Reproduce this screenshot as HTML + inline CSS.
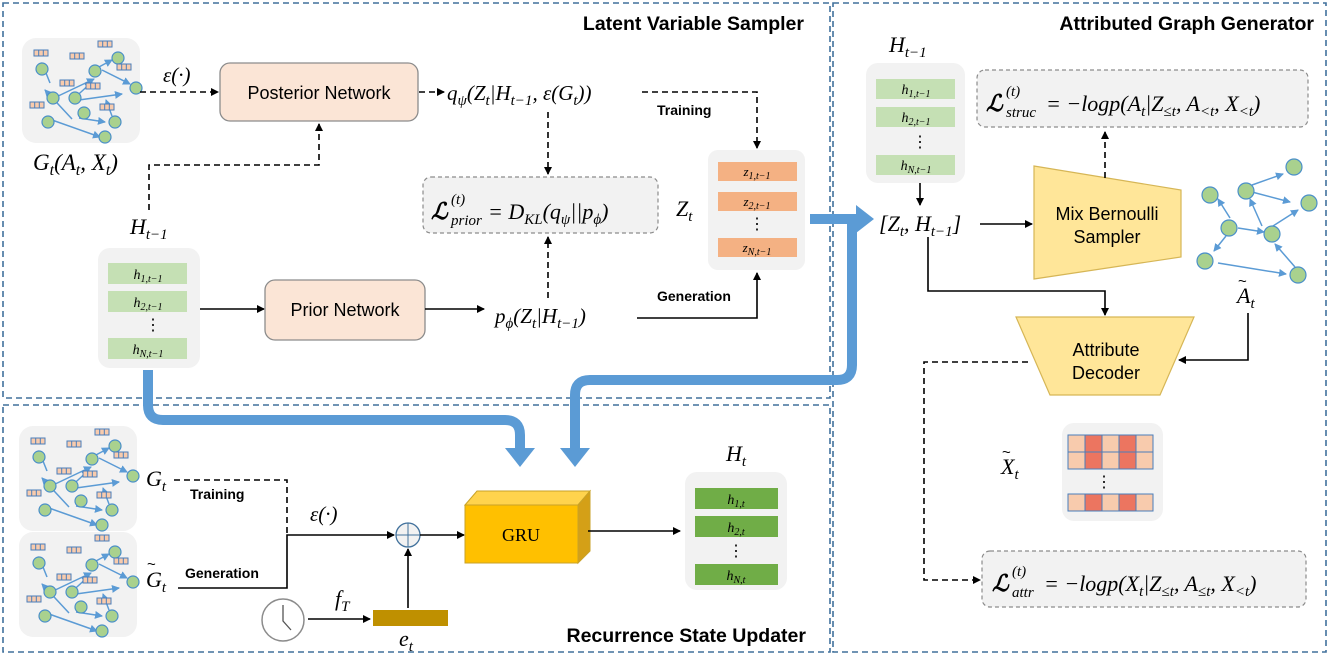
<!DOCTYPE html>
<html><head><meta charset="utf-8"><style>
body{margin:0;background:#fff}
svg{display:block}
.m{font-family:"Liberation Serif",serif;font-style:italic;fill:#000}
.s{font-family:"Liberation Sans",sans-serif;fill:#000}
.b{font-family:"Liberation Sans",sans-serif;font-weight:bold;fill:#000}
</style></head><body>
<svg width="1329" height="655" viewBox="0 0 1329 655" xmlns="http://www.w3.org/2000/svg">
<defs>
<marker id="ah" markerWidth="8" markerHeight="8" refX="7" refY="4" orient="auto" markerUnits="userSpaceOnUse"><path d="M0,0 L8,4 L0,8z" fill="#000"/></marker>
<marker id="bh" markerWidth="8" markerHeight="8" refX="7" refY="4" orient="auto" markerUnits="userSpaceOnUse"><path d="M0,0 L8,4 L0,8z" fill="#5b9bd5"/></marker>
<g id="attr"><rect x="0" y="0" width="14" height="6" fill="#f8cbad" stroke="#4a7ebb" stroke-width="1"/><line x1="4.7" y1="0" x2="4.7" y2="6" stroke="#4a7ebb"/><line x1="9.3" y1="0" x2="9.3" y2="6" stroke="#4a7ebb"/></g>
<g id="gr">
<rect x="0" y="0" width="118" height="105" rx="14" fill="#f2f2f2"/>
<g stroke="#5b9bd5" stroke-width="1.5" fill="none" marker-end="url(#bh)">
<line x1="50" y1="81" x2="23" y2="52"/><line x1="57" y1="80" x2="83" y2="84"/>
<line x1="32" y1="60" x2="72" y2="41"/><line x1="48" y1="64" x2="70" y2="44"/>
<line x1="75" y1="30" x2="90" y2="22"/>
<line x1="80" y1="32" x2="108" y2="46"/>
<line x1="57" y1="62" x2="100" y2="56"/>
<line x1="28" y1="45" x2="20" y2="25"/>
<line x1="90" y1="78" x2="84" y2="62"/>
<line x1="30" y1="82" x2="78" y2="99"/>
</g>
<g fill="#a9d18e" stroke="#4a8fc9" stroke-width="1.2">
<circle cx="20" cy="31" r="6"/><circle cx="73" cy="33" r="6"/><circle cx="96" cy="20" r="6"/>
<circle cx="114" cy="50" r="6"/><circle cx="53" cy="60" r="6"/><circle cx="31" cy="60" r="6"/>
<circle cx="93" cy="84" r="6"/><circle cx="26" cy="84" r="6"/><circle cx="83" cy="99" r="6"/><circle cx="62" cy="75" r="6"/>
</g>
<use href="#attr" x="12" y="12"/><use href="#attr" x="48" y="15"/><use href="#attr" x="76" y="3"/>
<use href="#attr" x="95" y="26"/><use href="#attr" x="38" y="42"/><use href="#attr" x="64" y="45"/>
<use href="#attr" x="8" y="64"/><use href="#attr" x="78" y="66"/>
</g>
</defs>

<!-- panels -->
<g fill="none" stroke="#41719c" stroke-width="1.6" stroke-dasharray="6,4">
<rect x="3" y="3" width="827" height="395"/>
<rect x="3" y="405" width="827" height="247"/>
<rect x="833" y="3" width="493" height="649"/>
</g>
<text class="b" x="804" y="30" font-size="19.5" text-anchor="end">Latent Variable Sampler</text>
<text class="b" x="1314" y="30" font-size="19.5" text-anchor="end">Attributed Graph Generator</text>
<text class="b" x="806" y="642" font-size="19.5" text-anchor="end">Recurrence State Updater</text>

<!-- top left -->
<use href="#gr" x="22" y="38"/>
<text class="m" x="33" y="170" font-size="23">G<tspan font-size="16" dy="5">t</tspan><tspan dy="-5">(A</tspan><tspan font-size="16" dy="5">t</tspan><tspan dy="-5">, X</tspan><tspan font-size="16" dy="5">t</tspan><tspan dy="-5">)</tspan></text>
<text class="m" x="163" y="82" font-size="21">ε(·)</text>
<line x1="140" y1="92" x2="218" y2="92" stroke="#000" stroke-width="1.6" stroke-dasharray="6,4" marker-end="url(#ah)"/>
<rect x="220" y="63" width="198" height="58" rx="10" fill="#fbe5d6" stroke="#8c8c8c" stroke-width="1.3"/>
<text class="s" x="319" y="99" font-size="18" text-anchor="middle">Posterior Network</text>
<line x1="419" y1="92" x2="444" y2="92" stroke="#000" stroke-width="1.6" stroke-dasharray="6,4" marker-end="url(#ah)"/>
<text class="m" x="447" y="100" font-size="21">q<tspan font-size="15" dy="5">ψ</tspan><tspan dy="-5">(Z</tspan><tspan font-size="15" dy="5">t</tspan><tspan dy="-5">|H</tspan><tspan font-size="15" dy="5">t−1</tspan><tspan dy="-5">, ε(G</tspan><tspan font-size="15" dy="5">t</tspan><tspan dy="-5">))</tspan></text>
<line x1="548" y1="112" x2="548" y2="174" stroke="#000" stroke-width="1.6" stroke-dasharray="6,4" marker-end="url(#ah)"/>
<polyline points="642,92 757,92 757,148" fill="none" stroke="#000" stroke-width="1.6" stroke-dasharray="6,4" marker-end="url(#ah)"/>
<text class="b" x="657" y="115" font-size="14">Training</text>
<rect x="423" y="177" width="235" height="56" rx="8" fill="#f2f2f2" stroke="#8c8c8c" stroke-width="1.2" stroke-dasharray="4,3"/>
<text class="m" x="431" y="219" font-size="23" font-weight="bold">ℒ</text>
<text class="m" x="451" y="204" font-size="15">(t)</text>
<text class="m" x="451" y="225" font-size="15">prior</text>
<text class="m" x="488" y="219" font-size="22">= D<tspan font-size="15" dy="5">KL</tspan><tspan dy="-5">(q</tspan><tspan font-size="15" dy="5">ψ</tspan><tspan dy="-5">||p</tspan><tspan font-size="15" dy="5">ϕ</tspan><tspan dy="-5">)</tspan></text>
<line x1="548" y1="298" x2="548" y2="237" stroke="#000" stroke-width="1.6" stroke-dasharray="6,4" marker-end="url(#ah)"/>
<text class="m" x="676" y="216" font-size="22">Z<tspan font-size="15" dy="5">t</tspan></text>
<rect x="708" y="150" width="97" height="120" rx="10" fill="#f2f2f2"/>
<g fill="#f4b183"><rect x="718" y="162" width="79" height="19"/><rect x="718" y="192" width="79" height="19"/><rect x="718" y="238" width="79" height="19"/></g>
<g class="m" font-size="13" text-anchor="middle"><text x="757" y="176">z<tspan font-size="10" dy="3">1,t−1</tspan></text><text x="757" y="206">z<tspan font-size="10" dy="3">2,t−1</tspan></text><text x="757" y="252">z<tspan font-size="10" dy="3">N,t−1</tspan></text></g>
<text x="757" y="229" font-size="16" text-anchor="middle" class="s">⋮</text>
<text class="m" x="130" y="234" font-size="22">H<tspan font-size="15" dy="5">t−1</tspan></text>
<polyline points="149,210 149,165 319,165 319,124" fill="none" stroke="#000" stroke-width="1.6" stroke-dasharray="6,4" marker-end="url(#ah)"/>
<rect x="98" y="248" width="102" height="120" rx="12" fill="#f2f2f2"/>
<g fill="#c5e0b4"><rect x="108" y="263" width="79" height="21"/><rect x="108" y="291" width="79" height="21"/><rect x="108" y="338" width="79" height="21"/></g>
<g class="m" font-size="14" text-anchor="middle"><text x="148" y="279">h<tspan font-size="10" dy="3">1,t−1</tspan></text><text x="148" y="307">h<tspan font-size="10" dy="3">2,t−1</tspan></text><text x="148" y="354">h<tspan font-size="10" dy="3">N,t−1</tspan></text></g>
<text x="153" y="330" font-size="16" text-anchor="middle" class="s">⋮</text>
<line x1="200" y1="309" x2="264" y2="309" stroke="#000" stroke-width="1.6" marker-end="url(#ah)"/>
<rect x="265" y="280" width="160" height="60" rx="10" fill="#fbe5d6" stroke="#8c8c8c" stroke-width="1.3"/>
<text class="s" x="345" y="316" font-size="18" text-anchor="middle">Prior Network</text>
<line x1="425" y1="309" x2="484" y2="309" stroke="#000" stroke-width="1.6" marker-end="url(#ah)"/>
<text class="m" x="495" y="323" font-size="21">p<tspan font-size="15" dy="5">ϕ</tspan><tspan dy="-5">(Z</tspan><tspan font-size="15" dy="5">t</tspan><tspan dy="-5">|H</tspan><tspan font-size="15" dy="5">t−1</tspan><tspan dy="-5">)</tspan></text>
<polyline points="637,318 757,318 757,273" fill="none" stroke="#000" stroke-width="1.6" marker-end="url(#ah)"/>
<text class="b" x="657" y="301" font-size="14">Generation</text>

<!-- blue arrows -->
<g fill="none" stroke="#5b9bd5" stroke-width="10">
<line x1="810" y1="219" x2="858" y2="219"/>
<path d="M852,219 L852,365 Q852,380 837,380 L590,380 Q575,380 575,395 L575,450"/>
<path d="M148,370 L148,405 Q148,420 163,420 L505,420 Q520,420 520,435 L520,450"/>
</g>
<g fill="#5b9bd5"><path d="M856,205 L874,219 L856,233z"/><path d="M560,448 L590,448 L575,467z"/><path d="M505,448 L535,448 L520,467z"/></g>

<!-- right panel -->
<text class="m" x="889" y="52" font-size="22">H<tspan font-size="15" dy="5">t−1</tspan></text>
<rect x="866" y="63" width="99" height="120" rx="12" fill="#f2f2f2"/>
<g fill="#c5e0b4"><rect x="876" y="79" width="79" height="20"/><rect x="876" y="107" width="79" height="20"/><rect x="876" y="155" width="79" height="20"/></g>
<g class="m" font-size="14" text-anchor="middle"><text x="916" y="94">h<tspan font-size="10" dy="3">1,t−1</tspan></text><text x="916" y="122">h<tspan font-size="10" dy="3">2,t−1</tspan></text><text x="916" y="170">h<tspan font-size="10" dy="3">N,t−1</tspan></text></g>
<text x="920" y="147" font-size="16" text-anchor="middle" class="s">⋮</text>
<line x1="920" y1="183" x2="920" y2="205" stroke="#000" stroke-width="1.6" marker-end="url(#ah)"/>
<text class="m" x="879" y="231" font-size="22" font-style="normal">[<tspan font-style="italic">Z</tspan><tspan font-size="15" font-style="italic" dy="5">t</tspan><tspan dy="-5">,  </tspan><tspan font-style="italic">H</tspan><tspan font-size="15" font-style="italic" dy="5">t−1</tspan><tspan dy="-5">]</tspan></text>
<line x1="980" y1="224" x2="1032" y2="224" stroke="#000" stroke-width="1.6" marker-end="url(#ah)"/>
<polygon points="1034,166 1181,190 1181,257 1034,279" fill="#ffe699" stroke="#d6b656" stroke-width="1.2"/>
<text class="s" x="1107" y="220" font-size="18" text-anchor="middle">Mix Bernoulli</text>
<text class="s" x="1107" y="243" font-size="18" text-anchor="middle">Sampler</text>
<line x1="1105" y1="178" x2="1105" y2="132" stroke="#000" stroke-width="1.6" stroke-dasharray="6,4" marker-end="url(#ah)"/>
<rect x="977" y="70" width="331" height="57" rx="8" fill="#f2f2f2" stroke="#8c8c8c" stroke-width="1.2" stroke-dasharray="4,3"/>
<text class="m" x="986" y="111" font-size="23" font-weight="bold">ℒ</text>
<text class="m" x="1006" y="96" font-size="15">(t)</text>
<text class="m" x="1006" y="117" font-size="15">struc</text>
<text class="m" x="1046" y="111" font-size="22">= −logp(A<tspan font-size="15" dy="5">t</tspan><tspan dy="-5">|Z</tspan><tspan font-size="15" dy="5">≤t</tspan><tspan dy="-5">, A</tspan><tspan font-size="15" dy="5">&lt;t</tspan><tspan dy="-5">, X</tspan><tspan font-size="15" dy="5">&lt;t</tspan><tspan dy="-5">)</tspan></text>
<!-- sampled graph -->
<g stroke="#5b9bd5" stroke-width="1.5" fill="none" marker-end="url(#bh)">
<line x1="1252" y1="185" x2="1283" y2="174"/><line x1="1252" y1="192" x2="1290" y2="202"/>
<line x1="1230" y1="218" x2="1218" y2="199"/><line x1="1238" y1="228" x2="1264" y2="232"/>
<line x1="1262" y1="226" x2="1250" y2="199"/><line x1="1273" y1="226" x2="1298" y2="210"/>
<line x1="1226" y1="236" x2="1214" y2="251"/><line x1="1218" y1="263" x2="1286" y2="274"/>
<line x1="1295" y1="267" x2="1275" y2="244"/>
</g>
<g fill="#a9d18e" stroke="#4a8fc9" stroke-width="1.2">
<circle cx="1294" cy="167" r="8"/><circle cx="1246" cy="191" r="8"/><circle cx="1210" cy="195" r="8"/>
<circle cx="1309" cy="203" r="8"/><circle cx="1229" cy="228" r="8"/><circle cx="1272" cy="234" r="8"/>
<circle cx="1205" cy="261" r="8"/><circle cx="1298" cy="275" r="8"/>
</g>
<text class="m" x="1237" y="303" font-size="22">A<tspan font-size="15" dy="5">t</tspan></text>
<text class="s" x="1238" y="286" font-size="15">~</text>
<polyline points="928,237 928,291 1105,291 1105,315" fill="none" stroke="#000" stroke-width="1.6" marker-end="url(#ah)"/>
<polygon points="1016,317 1194,317 1160,395 1050,395" fill="#ffe699" stroke="#d6b656" stroke-width="1.2"/>
<text class="s" x="1106" y="356" font-size="18" text-anchor="middle">Attribute</text>
<text class="s" x="1106" y="379" font-size="18" text-anchor="middle">Decoder</text>
<polyline points="1248,313 1248,360 1179,360" fill="none" stroke="#000" stroke-width="1.6" marker-end="url(#ah)"/>
<polyline points="1028,362 924,362 924,580 980,580" fill="none" stroke="#000" stroke-width="1.6" stroke-dasharray="6,4" marker-end="url(#ah)"/>
<text class="m" x="1001" y="474" font-size="22">X<tspan font-size="15" dy="5">t</tspan></text>
<text class="s" x="1002" y="457" font-size="15">~</text>
<rect x="1062" y="423" width="101" height="98" rx="12" fill="#f2f2f2"/>
<g stroke="#4a7ebb" stroke-width="1">
<g id="row"><rect x="1068" y="435" width="17" height="17" fill="#f8cbad"/><rect x="1085" y="435" width="17" height="17" fill="#ec7560"/><rect x="1102" y="435" width="17" height="17" fill="#f8cbad"/><rect x="1119" y="435" width="17" height="17" fill="#ec7560"/><rect x="1136" y="435" width="17" height="17" fill="#f8cbad"/></g>
<use href="#row" y="17"/><use href="#row" y="59"/>
</g>
<text x="1096" y="487" font-size="16" class="s">⋮</text>
<rect x="982" y="551" width="324" height="56" rx="8" fill="#f2f2f2" stroke="#8c8c8c" stroke-width="1.2" stroke-dasharray="4,3"/>
<text class="m" x="992" y="591" font-size="23" font-weight="bold">ℒ</text>
<text class="m" x="1012" y="576" font-size="15">(t)</text>
<text class="m" x="1012" y="597" font-size="15">attr</text>
<text class="m" x="1044" y="591" font-size="22">= −logp(X<tspan font-size="15" dy="5">t</tspan><tspan dy="-5">|Z</tspan><tspan font-size="15" dy="5">≤t</tspan><tspan dy="-5">, A</tspan><tspan font-size="15" dy="5">≤t</tspan><tspan dy="-5">, X</tspan><tspan font-size="15" dy="5">&lt;t</tspan><tspan dy="-5">)</tspan></text>

<!-- bottom -->
<use href="#gr" x="19" y="426"/>
<use href="#gr" x="19" y="532"/>
<text class="m" x="146" y="486" font-size="22">G<tspan font-size="15" dy="5">t</tspan></text>
<polyline points="174,480 287,480 287,533" fill="none" stroke="#000" stroke-width="1.6" stroke-dasharray="6,4"/>
<text class="b" x="190" y="499" font-size="14">Training</text>
<text class="m" x="146" y="587" font-size="22">G<tspan font-size="15" dy="5">t</tspan></text>
<text class="s" x="147" y="569" font-size="15">~</text>
<text class="b" x="185" y="578" font-size="14">Generation</text>
<polyline points="178,588 287,588 287,535 394,535" fill="none" stroke="#000" stroke-width="1.6" marker-end="url(#ah)"/>
<text class="m" x="310" y="521" font-size="21">ε(·)</text>
<circle cx="408" cy="535" r="12" fill="#f2f2f2" stroke="#41719c" stroke-width="1.3"/>
<line x1="396" y1="535" x2="420" y2="535" stroke="#41719c"/><line x1="408" y1="523" x2="408" y2="547" stroke="#41719c"/>
<line x1="420" y1="535" x2="464" y2="535" stroke="#000" stroke-width="1.6" marker-end="url(#ah)"/>
<polygon points="465,505 477,491 590,491 578,505" fill="#ffd34d" stroke="#c9a227"/>
<polygon points="578,505 590,491 590,551 578,563" fill="#d4a017" stroke="#c9a227"/>
<rect x="465" y="505" width="113" height="58" fill="#ffc000" stroke="#c9a227"/>
<text x="521" y="541" font-size="18" text-anchor="middle" font-family="Liberation Serif, serif">GRU</text>
<line x1="588" y1="531" x2="680" y2="531" stroke="#000" stroke-width="1.6" marker-end="url(#ah)"/>
<text class="m" x="726" y="461" font-size="22">H<tspan font-size="15" dy="5">t</tspan></text>
<rect x="685" y="472" width="102" height="118" rx="12" fill="#f2f2f2"/>
<g fill="#70ad47"><rect x="695" y="488" width="83" height="21"/><rect x="695" y="516" width="83" height="21"/><rect x="695" y="564" width="83" height="21"/></g>
<g class="m" font-size="14" text-anchor="middle"><text x="736" y="504">h<tspan font-size="10" dy="3">1,t</tspan></text><text x="736" y="532">h<tspan font-size="10" dy="3">2,t</tspan></text><text x="736" y="580">h<tspan font-size="10" dy="3">N,t</tspan></text></g>
<text x="736" y="556" font-size="16" text-anchor="middle" class="s">⋮</text>
<circle cx="283" cy="620" r="21" fill="#fff" stroke="#8c8c8c" stroke-width="1.5"/>
<polyline points="283,605 283,621 291,630" fill="none" stroke="#555" stroke-width="1.3"/>
<text class="m" x="335" y="606" font-size="22">f<tspan font-size="15" dy="5">T</tspan></text>
<line x1="308" y1="619" x2="370" y2="619" stroke="#000" stroke-width="1.6" marker-end="url(#ah)"/>
<rect x="373" y="610" width="75" height="16" fill="#bf9000"/>
<text class="m" x="399" y="646" font-size="22">e<tspan font-size="15" dy="5">t</tspan></text>
<line x1="408" y1="608" x2="408" y2="549" stroke="#000" stroke-width="1.6" marker-end="url(#ah)"/>
</svg>
</body></html>
